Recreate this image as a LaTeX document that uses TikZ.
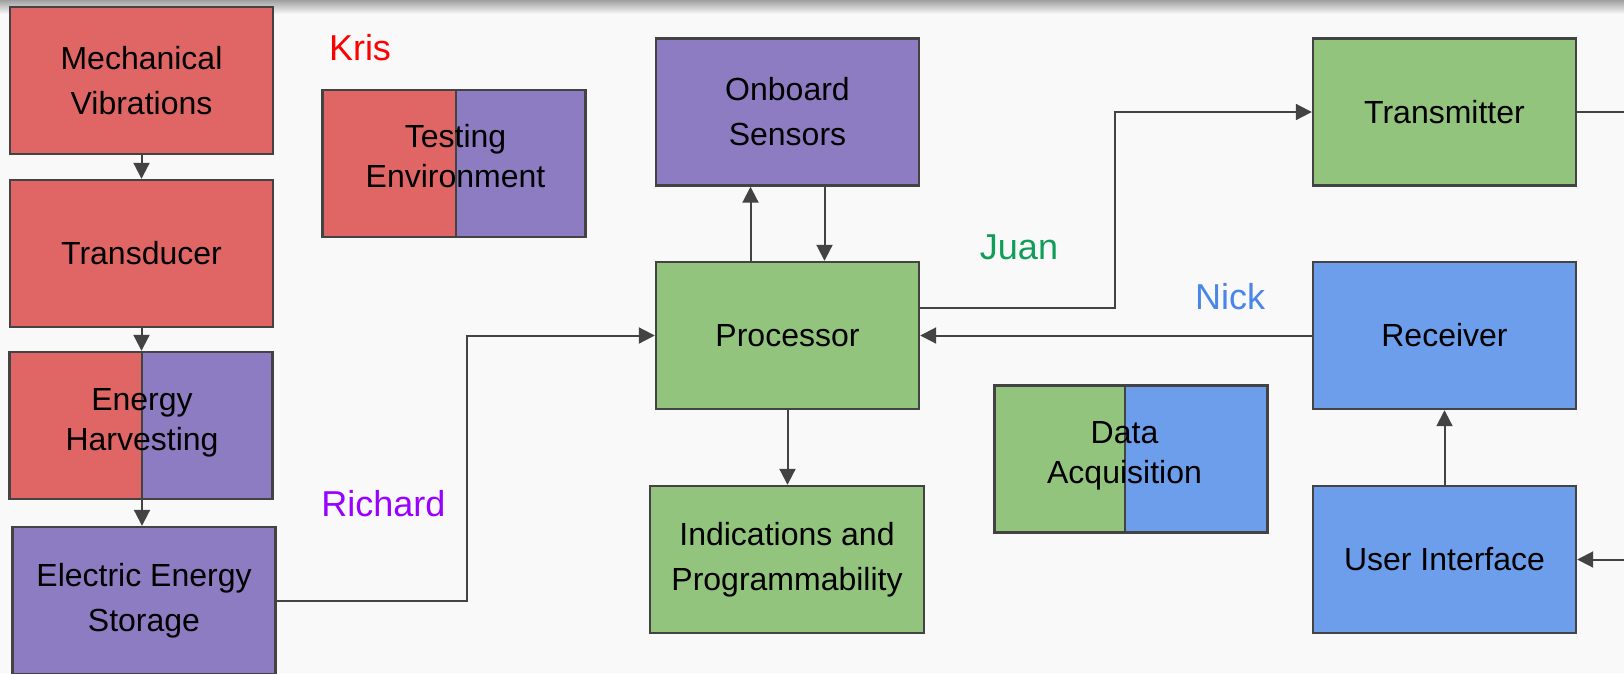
\documentclass[tikz,border=0pt]{standalone}
\usepackage{fontspec}
\setmainfont{Liberation Sans}
\usetikzlibrary{arrows.meta}

\definecolor{bgcol}{RGB}{249,249,249}
\definecolor{edgecol}{RGB}{67,67,67}
\definecolor{redbox}{HTML}{E06666}
\definecolor{purplebox}{HTML}{8E7CC3}
\definecolor{greenbox}{HTML}{93C47D}
\definecolor{bluebox}{HTML}{6D9EEB}
\definecolor{krisred}{HTML}{FF0000}
\definecolor{richardpurple}{HTML}{9900FF}
\definecolor{juangreen}{HTML}{0F9D58}
\definecolor{nickblue}{HTML}{4A86E8}

\tikzset{
	block/.style={draw=edgecol, line width=2.4pt, minimum width=263pt, minimum height=147pt,
		inner sep=0pt, align=center, font=\fontsize{32}{45}\selectfont},
	% box shared by two teams: left colour, right colour, shift of the split
	halfblock/.style n args={3}{block, path picture={
			\fill[#1] (path picture bounding box.south west) rectangle ([xshift=#3]path picture bounding box.north);
			\fill[#2] ([xshift=#3]path picture bounding box.north) rectangle (path picture bounding box.south east);
			\draw[edgecol, line width=2pt] ([xshift=#3]path picture bounding box.north) -- ([xshift=#3]path picture bounding box.south);
		}},
	splittext/.style={align=center, inner sep=0pt, yshift=3pt, font=\fontsize{32}{40}\selectfont},
	conn/.style={draw=edgecol, line width=2pt, -{Triangle[length=16pt, width=16pt]}},
	plain/.style={draw=edgecol, line width=2pt},
	who/.style={font=\fontsize{36}{40}\selectfont},
}

\begin{document}
\begin{tikzpicture}[x=1pt, y=-1pt]
	\fill[bgcol] (0, 0) rectangle (1624, 673);
	\shade[top color=gray!75, bottom color=bgcol] (0, 0) rectangle (1624, 14);
	\useasboundingbox (0, 0) rectangle (1624, 673);
	\clip (0, 0) rectangle (1624, 673);
	
	% energy chain on the left
	\node[block, fill=redbox] (mech) at (141.5, 80.5) {Mechanical\\Vibrations};
	\node[block, fill=redbox] (trans) at (141.5, 253.5) {Transducer};
	\node[halfblock={redbox}{purplebox}{1pt},
		label={[splittext, xshift=1pt]center:{Energy\\Harvesting}}] (harvest) at (141, 425.5) {};
	\node[block, fill=purplebox] (storage) at (144, 600.5) {Electric Energy\\Storage};
	\node[halfblock={redbox}{purplebox}{1.5pt},
		label={[splittext, xshift=1.5pt, yshift=4pt]center:{Testing\\Environment}}] (testenv) at (454, 163.5) {};
	
	% processing
	\node[block, fill=purplebox] (onboard) at (787.5, 112) {Onboard\\Sensors};
	\node[block, fill=greenbox] (proc) at (787.5, 335.5) {Processor};
	\node[block, fill=greenbox, minimum width=274pt] (indic) at (787, 559.5) {Indications and\\Programmability};
	\node[halfblock={greenbox}{bluebox}{-6.5pt}, minimum width=273pt,
		label={[splittext, xshift=-6.5pt]center:{Data\\Acquisition}}] (daq) at (1131, 459) {};
	
	% radio link
	\node[block, fill=greenbox] (tx) at (1444.5, 112) {Transmitter};
	\node[block, fill=bluebox] (rx) at (1444.5, 335.5) {Receiver};
	\node[block, fill=bluebox] (ui) at (1444.5, 559.5) {User Interface};
	
	\node[who, text=krisred] (kris) at (360, 48) {Kris};
	\node[who, text=richardpurple] (richard) at (383.5, 504) {Richard};
	\node[who, text=juangreen] (juan) at (1019, 247) {Juan};
	\node[who, text=nickblue] (nick) at (1230, 297) {Nick};
	
	\coordinate (txout) at (1624, 112);
	\coordinate (uiin) at (1624, 559.5);
	
	\draw[conn] (mech) -- (trans);
	\draw[conn] (trans.south) -- (trans.south |- harvest.north);
	\draw[conn] ([xshift=1pt]harvest.south) -- ([xshift=1pt]harvest.south |- storage.north);
	\draw[conn] (storage.east) -- ++(190, 0) |- (proc.west);
	\draw[conn] ([xshift=-37pt]proc.north) -- ([xshift=-37pt]onboard.south);
	\draw[conn] ([xshift=37pt]onboard.south) -- ([xshift=37pt]proc.north);
	\draw[conn] ([yshift=27.5pt]proc.east) -- ++(195, 0) |- (tx.west);
	\draw[conn] (rx.west) -- (proc.east);
	\draw[conn] (proc.south) -- (proc.south |- indic.north);
	\draw[conn] (ui.north) -- (rx.south);
	\draw[plain] (tx.east) -- (txout);
	\draw[conn] (uiin) -- (ui.east);
\end{tikzpicture}
\end{document}
